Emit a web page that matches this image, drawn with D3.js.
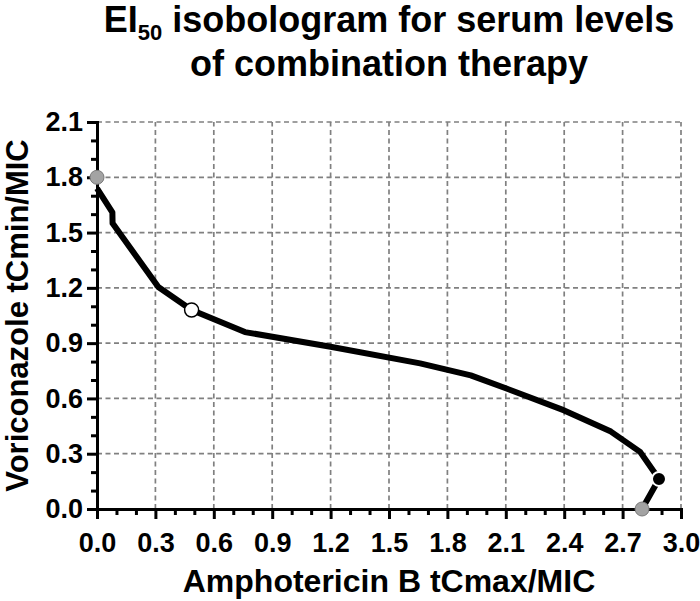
<!DOCTYPE html>
<html>
<head>
<meta charset="utf-8">
<script src="https://cdn.jsdelivr.net/npm/d3@7"></script>
<style>
  body { margin: 0; background: #fff; }
  svg text { font-family: "Liberation Sans", Arial, sans-serif; font-weight: bold; fill: #000; }
</style>
</head>
<body>
<div id="chart"></div>
<script>
// isobologram curve (Amphotericin B tCmax/MIC, Voriconazole tCmin/MIC)
var curveX = [0, 0.079, 0.08, 0.315, 0.486, 0.76, 1.2, 1.66, 1.92, 2.1, 2.4, 2.64, 2.79, 2.887, 2.8];
var curveY = [1.74, 1.61, 1.55, 1.205, 1.08, 0.96, 0.88, 0.79, 0.725, 0.655, 0.535, 0.42, 0.31, 0.163, 0.0];

// marked points
var grayX = [0, 2.8];
var grayY = [1.8, 0];
var whiteX = [0.486];
var whiteY = [1.08];
var blackX = [2.887];
var blackY = [0.163];

var xTicks = [0, 0.3, 0.6, 0.9, 1.2, 1.5, 1.8, 2.1, 2.4, 2.7, 3.0];
var yTicks = [0, 0.3, 0.6, 0.9, 1.2, 1.5, 1.8, 2.1];
var minorTicks = [0.1, 0.2, 0.4, 0.5, 0.7, 0.8, 1.0, 1.1, 1.3, 1.4, 1.6, 1.7, 1.9, 2.0, 2.2, 2.3, 2.5, 2.6, 2.8, 2.9];

var width = 700, height = 601;
var margin = {top: 122, right: 19, bottom: 92, left: 97};

var svg = d3.select("#chart").append("svg")
    .attr("width", width)
    .attr("height", height);

var x = d3.scaleLinear().domain([0, 3.0]).range([margin.left, width - margin.right]);
var y = d3.scaleLinear().domain([0, 2.1]).range([height - margin.bottom, margin.top]);

// grid
var grid = svg.append("g")
    .attr("stroke", "#808080")
    .attr("stroke-width", 1.7)
    .attr("stroke-dasharray", "5,3.5");

grid.selectAll("line.v").data(xTicks.slice(1)).enter().append("line")
    .attr("x1", function(d) { return x(d); })
    .attr("x2", function(d) { return x(d); })
    .attr("y1", y(0))
    .attr("y2", y(2.1));

grid.selectAll("line.h").data(yTicks.slice(1)).enter().append("line")
    .attr("x1", x(0))
    .attr("x2", x(3.0))
    .attr("y1", function(d) { return y(d); })
    .attr("y2", function(d) { return y(d); });

// minor ticks
svg.append("g")
    .attr("transform", "translate(0," + y(0) + ")")
    .call(d3.axisBottom(x).tickValues(minorTicks).tickSize(6).tickFormat(""))
    .call(function(g) { g.select(".domain").remove(); });

svg.append("g")
    .attr("transform", "translate(" + x(0) + ",0)")
    .call(d3.axisLeft(y).tickValues(minorTicks.filter(function(d) { return d < 2.1; })).tickSize(6).tickFormat(""))
    .call(function(g) { g.select(".domain").remove(); });

// main axes
svg.append("g")
    .attr("transform", "translate(0," + y(0) + ")")
    .call(d3.axisBottom(x).tickValues(xTicks).tickSize(10).tickSizeOuter(0).tickPadding(14)
        .tickFormat(d3.format(".1f")));

svg.append("g")
    .attr("transform", "translate(" + x(0) + ",0)")
    .call(d3.axisLeft(y).tickValues(yTicks).tickSize(10).tickSizeOuter(0).tickPadding(4)
        .tickFormat(d3.format(".1f")));

svg.selectAll(".tick line").attr("stroke", "#000").attr("stroke-width", 3);
svg.selectAll(".domain").attr("stroke", "#000").attr("stroke-width", 3).attr("stroke-linecap", "square");
svg.selectAll(".tick text").style("font-size", "27px").attr("fill", "#000");

// curve
var pts = curveX.map(function(d, i) { return [d, curveY[i]]; });
var line = d3.line().x(function(d) { return x(d[0]); }).y(function(d) { return y(d[1]); });

svg.append("path")
    .datum(pts)
    .attr("d", line)
    .attr("fill", "none")
    .attr("stroke", "#000")
    .attr("stroke-width", 6)
    .attr("stroke-linejoin", "round");

// markers
var addDots = function(xs, ys, fill, stroke, sw) {
    svg.append("g").selectAll("circle")
        .data(xs.map(function(d, i) { return [d, ys[i]]; }))
        .enter().append("circle")
        .attr("cx", function(d) { return x(d[0]); })
        .attr("cy", function(d) { return y(d[1]); })
        .attr("r", 7)
        .attr("fill", fill)
        .attr("stroke", stroke)
        .attr("stroke-width", sw);
};
addDots(grayX, grayY, "#a3a3a3", "#7a7a7a", 1);
addDots(whiteX, whiteY, "#fff", "#000", 1.5);
addDots(blackX, blackY, "#000", "#fff", 2);

// title
var title = svg.append("text")
    .attr("x", x(1.5))
    .attr("y", 32)
    .attr("text-anchor", "middle")
    .style("font-size", "36px");
title.append("tspan").text("EI");
title.append("tspan").attr("dy", 8).style("font-size", "22px").text("50");
title.append("tspan").attr("dy", -8).text(" isobologram for serum levels");

svg.append("text")
    .attr("x", x(1.5))
    .attr("y", 76)
    .attr("text-anchor", "middle")
    .style("font-size", "36px")
    .text("of combination therapy");

// axis titles
svg.append("text")
    .attr("x", x(1.5))
    .attr("y", 592)
    .attr("text-anchor", "middle")
    .style("font-size", "32px")
    .text("Amphotericin B tCmax/MIC");

svg.append("text")
    .attr("transform", "translate(28," + y(1.05) + ") rotate(-90)")
    .attr("text-anchor", "middle")
    .style("font-size", "31px")
    .text("Voriconazole tCmin/MIC");
</script>
</body>
</html>
